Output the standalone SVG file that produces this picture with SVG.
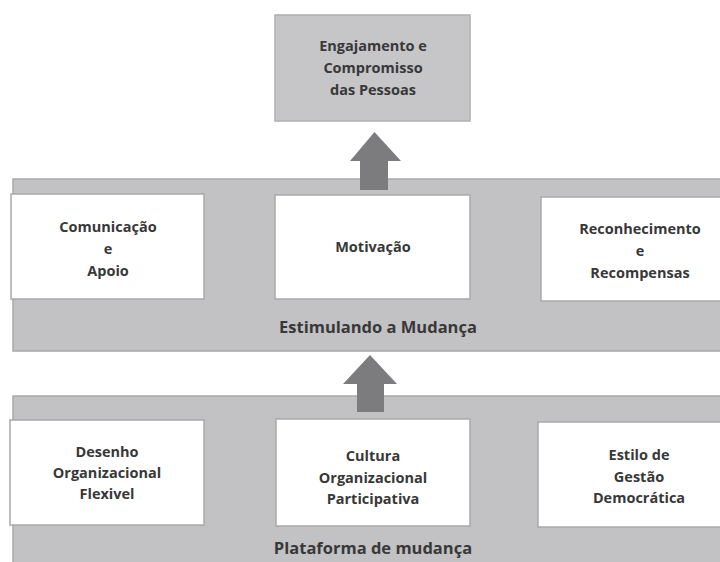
<svg xmlns="http://www.w3.org/2000/svg" width="720" height="562" viewBox="0 0 720 562">
  <style>
    .band { fill: #c2c1c4; stroke: #a9a9ab; stroke-width: 1.5; }
    .box { fill: #ffffff; stroke: #a9a9ab; stroke-width: 1.5; }
    .topbox { fill: #c6c5c8; stroke: #b0b0b2; stroke-width: 1.5; }
    .arrow { fill: #7c7c7e; }
    text { font-family: "Open Sans", "Liberation Sans", sans-serif; font-weight: 700; fill: #383838; text-anchor: middle; }
    .t { font-size: 14.5px; }
    .lbl { font-size: 16.5px; }
  </style>

  <g id="band-plataforma">
    <rect class="band" x="13" y="396" width="720" height="180"/>
    <text class="lbl" x="373" y="554">Plataforma de mudança</text>
  </g>
  <g id="band-estimulando">
    <rect class="band" x="13" y="179" width="720" height="172"/>
    <text class="lbl" x="378" y="333">Estimulando a Mudança</text>
  </g>

  <g id="connectors">
    <polygon class="arrow" points="360,190 388,190 388,161 401,161 374.5,132 350,161 360,161"/>
    <polygon class="arrow" points="357,412 384,412 384,384 397,384 370,355 343,384 357,384"/>
  </g>

  <g id="engajamento">
    <rect class="topbox" x="275" y="15" width="195" height="106"/>
    <text class="t" x="373" y="51">Engajamento e</text>
    <text class="t" x="373" y="73">Compromisso</text>
    <text class="t" x="373" y="95">das Pessoas</text>
  </g>

  <g id="comunicacao">
    <rect class="box" x="11" y="194" width="193" height="105"/>
    <text class="t" x="108" y="232">Comunicação</text>
    <text class="t" x="108" y="254">e</text>
    <text class="t" x="108" y="276">Apoio</text>
  </g>
  <g id="motivacao">
    <rect class="box" x="275" y="195" width="195" height="104"/>
    <text class="t" x="373" y="252">Motivação</text>
  </g>
  <g id="reconhecimento">
    <rect class="box" x="541" y="197" width="190" height="104"/>
    <text class="t" x="640" y="234">Reconhecimento</text>
    <text class="t" x="640" y="256">e</text>
    <text class="t" x="640" y="278">Recompensas</text>
  </g>

  <g id="desenho">
    <rect class="box" x="10" y="420" width="194" height="105"/>
    <text class="t" x="107" y="457">Desenho</text>
    <text class="t" x="107" y="478">Organizacional</text>
    <text class="t" x="107" y="499">Flexivel</text>
  </g>
  <g id="cultura">
    <rect class="box" x="276" y="419" width="194" height="107"/>
    <text class="t" x="373" y="461">Cultura</text>
    <text class="t" x="373" y="483">Organizacional</text>
    <text class="t" x="373" y="504">Participativa</text>
  </g>
  <g id="estilo">
    <rect class="box" x="538" y="422" width="193" height="105"/>
    <text class="t" x="639" y="460">Estilo de</text>
    <text class="t" x="639" y="482">Gestão</text>
    <text class="t" x="639" y="503">Democrática</text>
  </g>
</svg>
